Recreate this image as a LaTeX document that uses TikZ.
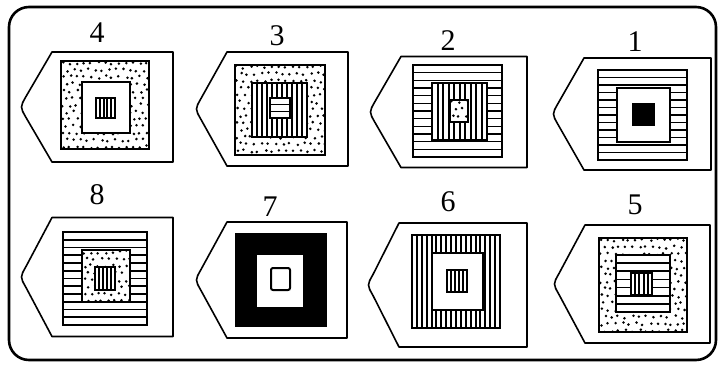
\documentclass[tikz,border=0pt]{standalone}
\usepackage{fontspec}
\setmainfont{Liberation Serif}
\usepackage{tikz}

% rectangle given by centre and size
\newcommand{\sqr}[4]{({#1-#3/2},{#2-#4/2}) rectangle ({#1+#3/2},{#2+#4/2})}
% card outline: left tip x, right edge x, centre y, height
\newcommand{\card}[4]{\draw[card] ({#1+32},{#3-#4/2}) -- ({#2},{#3-#4/2}) -- ({#2},{#3+#4/2}) -- ({#1+32},{#3+#4/2}) -- ({#1+6},{#3+10.5}) .. controls ({#1},{#3}) .. ({#1+6},{#3-10.5}) -- cycle;}
% plain white square
\newcommand{\wsq}[5][mid]{\filldraw[fill=white,#1] \sqr{#2}{#3}{#4}{#5};}
% black square
\newcommand{\bsq}[4]{\fill \sqr{#1}{#2}{#3}{#4};}
% horizontal stripes
\newcommand{\hsq}[6][mid]{%
  \fill[white] \sqr{#2}{#3}{#4}{#5};
  \begin{scope}
    \clip \sqr{#2}{#3}{#4}{#5};
    \foreach \k in {1,...,#6}
      \draw[stripe] ({#2-#4/2},{#3-#5/2+\k*#5/(#6+1)}) -- ++(#4,0);
  \end{scope}
  \draw[#1] \sqr{#2}{#3}{#4}{#5};}
% vertical stripes
\newcommand{\vsq}[6][mid]{%
  \fill[white] \sqr{#2}{#3}{#4}{#5};
  \begin{scope}
    \clip \sqr{#2}{#3}{#4}{#5};
    \foreach \k in {1,...,#6}
      \draw[vstripe] ({#2-#4/2+\k*#4/(#6+1)},{#3-#5/2}) -- ++(0,#5);
  \end{scope}
  \draw[#1] \sqr{#2}{#3}{#4}{#5};}
% stippled square
\newcommand{\dsq}[5][mid]{%
  \fill[white] \sqr{#2}{#3}{#4}{#5};
  \begin{scope}
    \clip \sqr{#2}{#3}{#4}{#5};
    \foreach \i in {0,...,13} \foreach \j in {0,...,13}
      \fill ({#2-#4/2+2+7*\i+3.5*mod(\j,2)+1.5*rand},{#3-#5/2+2+7*\j+1.5*rand}) circle (1.4);
  \end{scope}
  \draw[#1] \sqr{#2}{#3}{#4}{#5};}

\begin{document}
\begin{tikzpicture}[x=1pt,y=-1pt,
  frame/.style={line width=2.6pt,rounded corners=20pt},
  card/.style={line width=1.6pt,line join=round},
  outer/.style={line width=2.6pt},
  mid/.style={line width=1.9pt},
  inner/.style={line width=1.5pt},
  stripe/.style={line width=1.6pt},
  vstripe/.style={line width=2pt},
  num/.style={font=\fontsize{30}{30}\selectfont,inner sep=0pt}]
\pgfmathsetseed{7}
\useasboundingbox (0,0) rectangle (718,365);
\draw[frame] (9,7) rectangle (716,360);

% top row
\card{20}{173}{107}{110}
\dsq[outer]{105}{105}{88}{88}
\wsq{106}{107.5}{48}{51}
\vsq[inner]{105.5}{108}{19}{20}{4}
\node[num] (n4) at (97,33) {4};

\card{195}{348}{109}{114}
\dsq[outer]{280}{110}{90}{90}
\vsq{279.5}{110}{55}{54}{10}
\hsq[inner]{280}{108}{20}{20}{2}
\node[num] (n3) at (277,36) {3};

\card{369}{527}{112}{111}
\hsq[outer]{457.5}{111}{89}{92}{11}
\vsq{459.5}{111.5}{55}{57}{9}
\dsq[inner]{459}{111}{18}{22}
\node[num] (n2) at (448,41) {2};

\card{552}{711}{114}{112}
\hsq[outer]{642.5}{115}{89}{90}{11}
\wsq{643.5}{115}{53}{54}
\bsq{643.5}{114.5}{23}{23}
\node[num] (n1) at (635,42) {1};

% bottom row
\card{20}{173}{277}{119}
\hsq[outer]{105}{278.5}{84}{93}{11}
\dsq{106}{276}{48}{52}
\vsq[inner]{105}{278.5}{20}{23}{4}
\node[num] (n8) at (97,195) {8};

\card{195}{347}{280}{116}
\bsq{281}{280}{92}{94}
\fill[white] \sqr{280}{281}{46}{52};
\filldraw[fill=white,line width=2pt,rounded corners=2pt] \sqr{280.5}{279}{19}{22};
\node[num] (n7) at (270,207) {7};

\card{367}{527}{285}{124}
\vsq[outer]{456}{281.5}{88}{93}{17}
\wsq{457.5}{281.5}{51}{57}
\vsq[inner]{457}{281}{20}{22}{4}
\node[num] (n6) at (448,202) {6};

\card{553}{710}{284}{118}
\dsq[outer]{643}{285}{88}{94}
\hsq{643}{283.5}{54}{57}{6}
\vsq[inner]{641.5}{284}{21}{22}{4}
\node[num] (n5) at (635,205) {5};
\end{tikzpicture}
\end{document}
